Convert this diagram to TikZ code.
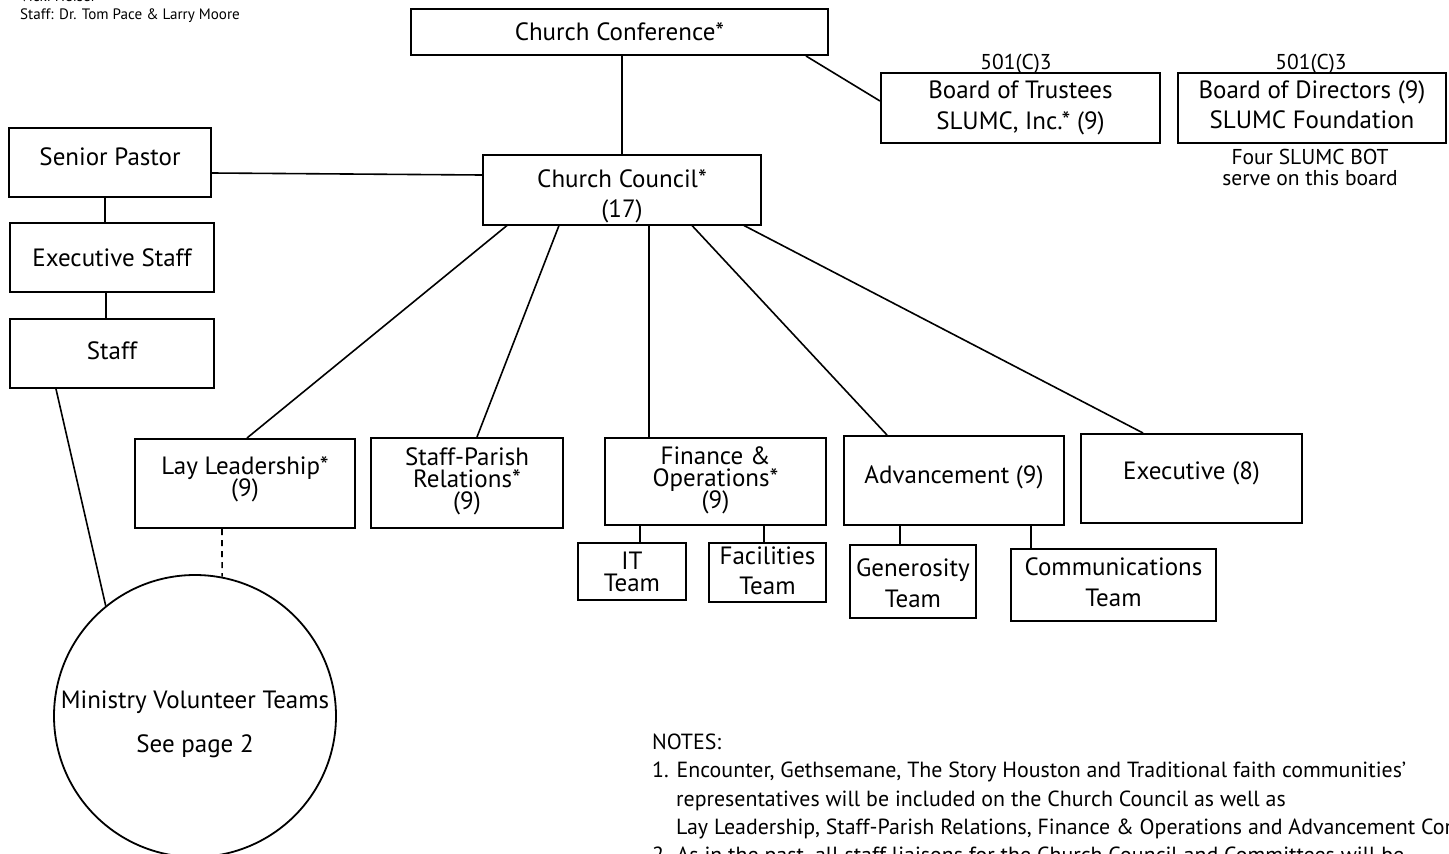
\documentclass[tikz,border=0pt]{standalone}
\usepackage{fontspec}
\setmainfont{PT Sans}
\newcommand\bfnt{\fontsize{25}{22}\selectfont}
\newcommand\sfnt{\fontsize{21.5}{21}\selectfont}
\newcommand\nfnt{\fontsize{21.9}{22}\selectfont}
\newcommand\tfnt{\fontsize{15.1}{17}\selectfont}
\newcommand\rw[1]{\smash{#1}}
\newcommand\mytab[1]{\begin{tabular}{@{}c@{}}#1\end{tabular}}
\newcommand\mypadb[2]{\raisebox{0pt}[\height][\dimexpr\depth+#1\relax]{#2}}
\newcommand\mypadt[2]{\raisebox{0pt}[\dimexpr\height+#1\relax][\depth]{#2}}
\tikzset{
  box/.style={draw, line width=2pt, inner sep=0pt, font=\bfnt, minimum width=#1},
  conn/.style={line width=1.6pt},
  lbl/.style={inner sep=0pt, font=\sfnt, align=center},
  note/.style={inner sep=0pt, font=\nfnt, anchor=base west},
}
\begin{document}
\begin{tikzpicture}[x=1pt,y=-1pt]
\useasboundingbox (0,0) rectangle (1449,854);
\clip (0,0) rectangle (1449,854);
% top-left text
\node[inner sep=0pt, font=\tfnt, anchor=base west] (vh) at (20,1) {Vicki Heiser};
\node[inner sep=0pt, font=\tfnt, anchor=base west] (tstaff) at (20,19.5) {Staff: Dr. Tom Pace \& Larry Moore};
% boxes
\node[box=417pt, minimum height=46pt] (conf) at (619.5,32) {\mypadt{9pt}{\mytab{\rw{Church Conference*}}}};
\node[box=279pt, minimum height=70pt] (bot) at (1020.5,108) {\mypadt{4pt}{\mytab{\rw{Board of Trustees}\\[9pt]\rw{SLUMC, Inc.* (9)}}}};
\node[box=268pt, minimum height=70pt] (bod) at (1312,108) {\mypadt{3pt}{\mytab{\rw{Board of Directors (9)}\\[8pt]\rw{SLUMC Foundation}}}};
\node[lbl] (bot5) at (1016,64) {501(C)3};
\node[lbl] (bod5) at (1311,64) {501(C)3};
\node[lbl] (four) at (1310,167) {Four SLUMC BOT\\serve on this board};
\node[box=202pt, minimum height=69pt] (sp) at (110,162.5) {\mypadb{2pt}{\mytab{\rw{Senior Pastor}}}};
\node[box=278pt, minimum height=69pt] (council) at (622,189.5) {\mypadt{18pt}{\mytab{\rw{Church Council*}\\[8pt]\rw{(17)}}}};
\node[box=204pt, minimum height=69pt] (es) at (112,257.5) {\mypadt{10pt}{\mytab{\rw{Executive Staff}}}};
\node[box=204pt, minimum height=69pt] (staff) at (112,353.5) {\mypadt{4pt}{\mytab{\rw{Staff}}}};
\node[box=220pt, minimum height=89pt] (lay) at (245,483.5) {\mypadb{4pt}{\mytab{\rw{Lay Leadership*}\\\rw{(9)}}}};
\node[box=192pt, minimum height=90pt] (spr) at (467,483) {\mypadt{1pt}{\mytab{\rw{Staff-Parish}\\\rw{Relations*}\\\rw{(9)}}}};
\node[box=221pt, minimum height=87pt] (fin) at (715.5,481.5) {\mypadt{1pt}{\mytab{\rw{Finance \&}\\\rw{Operations*}\\\rw{(9)}}}};
\node[box=108pt, minimum height=57pt] (it) at (632,571.5) {\mypadt{9pt}{\mytab{\rw{IT}\\\rw{Team}}}};
\node[box=117pt, minimum height=54pt] (fac) at (767.5,572) {\mypadt{7pt}{\mytab{\rw{Facilities}\\[8pt]\rw{Team}}}};
\node[box=220pt, minimum height=89pt] (adv) at (954,480.5) {\mypadb{2pt}{\mytab{\rw{Advancement (9)}}}};
\node[box=126pt, minimum height=73pt] (gen) at (913,581.5) {\mypadt{13pt}{\mytab{\rw{Generosity}\\[9pt]\rw{Team}}}};
\node[box=205pt, minimum height=72pt] (com) at (1113.5,585) {\mypadt{4pt}{\mytab{\rw{Communications}\\[9pt]\rw{Team}}}};
\node[box=221pt, minimum height=89pt] (exe) at (1191.5,478.5) {\mypadb{6pt}{\mytab{\rw{Executive (8)}}}};
\node[circle, draw, line width=1.8pt, minimum size=282pt, inner sep=0pt, font=\bfnt] (mvt) at (195,716) {\mypadt{21pt}{\mytab{\rw{Ministry Volunteer Teams}\\[22pt]\rw{See page 2}}}};
% connectors
\draw[conn] (council.north) -- (council.north |- conf.south);
\draw[conn] ([xshift=-23pt]conf.south east) -- ([yshift=7pt]bot.west);
\draw[conn] ([yshift=-10.5pt]sp.east) -- ([yshift=14.5pt]council.west);
\draw[conn] ([xshift=-5pt]sp.south) -- ([xshift=-5pt]sp.south |- es.north);
\draw[conn] ([xshift=-6pt]es.south) -- ([xshift=-6pt]es.south |- staff.north);
\draw[conn] ([xshift=47pt]staff.south west) -- (mvt.129.5);
\draw[conn, dash pattern=on 6pt off 5pt] ([xshift=-23pt]lay.south) -- (mvt.79);
\draw[conn] ([xshift=25pt]council.south west) -- ([xshift=113pt]lay.north west);
\draw[conn] ([xshift=77pt]council.south west) -- ([xshift=107pt]spr.north west);
\draw[conn] ([xshift=167pt]council.south west) -- ([xshift=167pt]council.south west |- fin.north);
\draw[conn] ([xshift=210pt]council.south west) -- ([xshift=44pt]adv.north west);
\draw[conn] ([xshift=262pt]council.south west) -- ([xshift=63pt]exe.north west);
\draw[conn] ([xshift=36pt]fin.south west) -- ([xshift=36pt]fin.south west |- it.north);
\draw[conn] ([xshift=160pt]fin.south west) -- ([xshift=160pt]fin.south west |- fac.north);
\draw[conn] ([xshift=57pt]adv.south west) -- ([xshift=57pt]adv.south west |- gen.north);
\draw[conn] ([xshift=188pt]adv.south west) -- ([xshift=188pt]adv.south west |- com.north);
% notes
\node[note] (n0) at (652,749) {NOTES:};
\node[note] (n1) at (652,777) {1. Encounter, Gethsemane, The Story Houston and Traditional faith communities'};
\node[note] (n2) at (676,806) {representatives will be included on the Church Council as well as};
\node[note] (n3) at (676,834) {Lay Leadership, Staff-Parish Relations, Finance \& Operations and Advancement Committees.};
\node[note] (n4) at (652,862) {2. As in the past, all staff liaisons for the Church Council and Committees will be};
\end{tikzpicture}
\end{document}
